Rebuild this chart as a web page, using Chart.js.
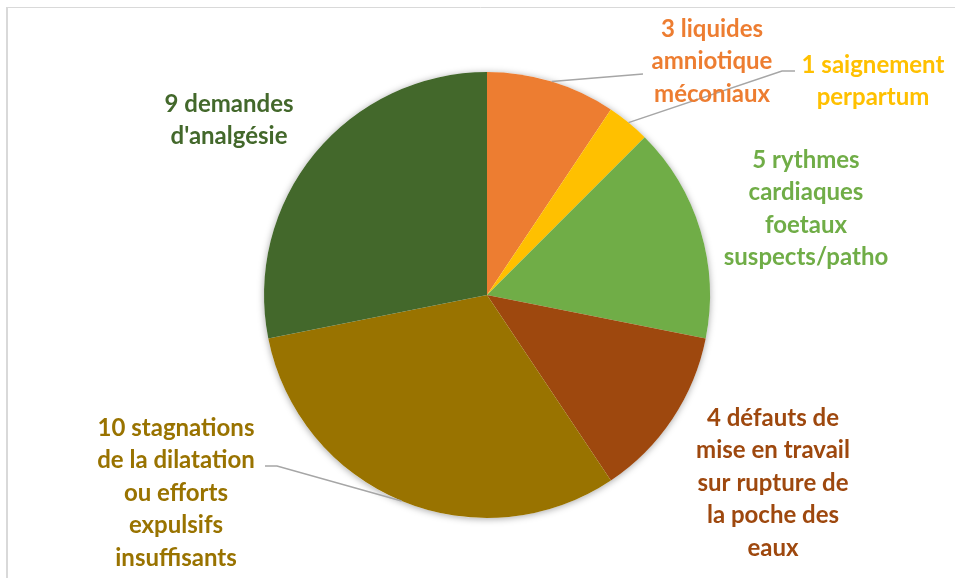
<!DOCTYPE html>
<html>
<head>
<meta charset="utf-8">
<script src="https://cdn.jsdelivr.net/npm/chart.js@4"></script>
<style>
  html, body { margin: 0; padding: 0; background: #fff; }
  #wrap { width: 962px; height: 578px; position: relative; }
</style>
</head>
<body>
<div id="wrap"><canvas id="myChart" width="962" height="578"></canvas></div>
<script>
const categories = [
  ['3 liquides', 'amniotique', 'méconiaux'],
  ['1 saignement', 'perpartum'],
  ['5 rythmes', 'cardiaques', 'foetaux', 'suspects/patho'],
  ['4 défauts de', 'mise en travail', 'sur rupture de', 'la poche des', 'eaux'],
  ['10 stagnations', 'de la dilatation', 'ou efforts', 'expulsifs', 'insuffisants'],
  ['9 demandes', "d'analgésie"]
];
const counts = [3, 1, 5, 4, 10, 9];
const colors = ['#ED7D31', '#FFC000', '#70AD47', '#9E480E', '#997300', '#43682B'];

// where each label block sits (center x, middle of first line)
const labelPos = [[712, 29], [873, 65], [806, 160], [773, 418], [176, 428], [229, 104]];
// leader lines : from the middle of the slice edge to these points
const leaders = {
  0: [[643, 74]],
  1: [[782, 71], [795, 71]],
  4: [[277, 466], [265, 466]]
};

const frame = {
  id: 'frame',
  beforeDraw(chart) {
    const c = chart.ctx;
    c.save();
    c.strokeStyle = '#d9d9d9';
    c.lineWidth = 1;
    c.beginPath();
    c.moveTo(6, 7.5); c.lineTo(955, 7.5);
    c.stroke();
    c.lineWidth = 2;
    c.beginPath();
    c.moveTo(7, 7); c.lineTo(7, 578);
    c.stroke();
    c.restore();
  },
  beforeDatasetsDraw(chart) {
    // soft shadow under the pie
    const a = chart.getDatasetMeta(0).data[0];
    const c = chart.ctx;
    c.save();
    c.shadowColor = 'rgba(0,0,0,0.35)';
    c.shadowBlur = 7;
    c.shadowOffsetY = 1;
    c.fillStyle = '#fff';
    c.beginPath();
    c.arc(a.x, a.y, a.outerRadius, 0, Math.PI * 2);
    c.fill();
    c.restore();
  }
};

const outLabels = {
  id: 'outLabels',
  afterDatasetsDraw(chart) {
    const c = chart.ctx;
    const arcs = chart.getDatasetMeta(0).data;
    c.save();
    // leader lines
    c.strokeStyle = '#a6a6a6';
    c.lineWidth = 1.5;
    Object.keys(leaders).forEach(k => {
      const a = arcs[+k];
      const ang = (a.startAngle + a.endAngle) / 2;
      c.beginPath();
      c.moveTo(a.x + Math.cos(ang) * a.outerRadius, a.y + Math.sin(ang) * a.outerRadius);
      leaders[k].forEach(p => c.lineTo(p[0], p[1]));
      c.stroke();
    });
    // label text
    c.font = "bold 24px Lato, 'Open Sans', sans-serif";
    c.textAlign = 'center';
    c.textBaseline = 'middle';
    categories.forEach((lines, i) => {
      c.fillStyle = colors[i];
      lines.forEach((t, j) => c.fillText(t, labelPos[i][0], labelPos[i][1] + j * 32.5));
    });
    c.restore();
  }
};

const ctx = document.getElementById('myChart').getContext('2d');
const myChart = new Chart(ctx, {
  type: 'pie',
  data: {
    labels: categories.map(l => l.join(' ')),
    datasets: [{
      data: counts,
      backgroundColor: colors,
      borderWidth: 0
    }]
  },
  options: {
    responsive: false,
    animation: false,
    layout: { padding: { top: 72, bottom: 60, left: 200, right: 188 } },
    plugins: {
      legend: { display: false },
      tooltip: { enabled: false }
    }
  },
  plugins: [frame, outLabels]
});
</script>
</body>
</html>
